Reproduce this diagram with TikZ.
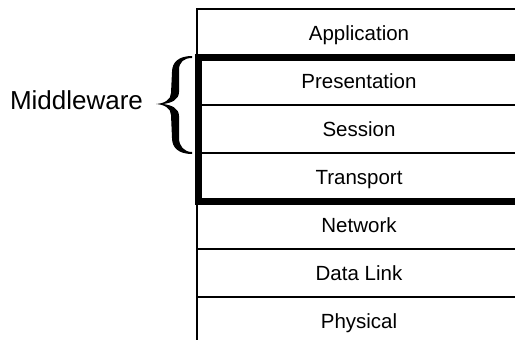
\documentclass[tikz,border=0pt]{standalone}
\usepackage{fontspec}
\setmainfont{Liberation Sans}
\begin{document}
\begin{tikzpicture}[x=1pt,y=-1pt]
\tikzset{layer/.style = {shape=rectangle,draw,line width=2pt,
		minimum width=324pt,minimum height=48pt,
		outer sep=0pt,inner sep=0pt,
		text height=14.7pt,text depth=0pt,
		font=\fontsize{20.5}{24}\selectfont}}
\tikzset{frame/.style = {draw,line width=7pt}}
\useasboundingbox (0,0) rectangle (515,340);
\clip (0,0) rectangle (515,340);
% layers
\node[layer] (app) at (359,33) {Application};
\node[layer] (pres) at (359,81) {Presentation};
\node[layer] (sess) at (359,129) {Session};
\node[layer] (trans) at (359,177) {Transport};
\node[layer] (net) at (359,225) {Network};
\node[layer] (dl) at (359,273) {Data Link};
\node[layer] (phy) at (359,321) {Physical};

% middleware box and label
\draw[frame] ([xshift=1pt]pres.north west) rectangle (trans.south east);
\node[font=\fontsize{26}{30}\selectfont,anchor=base] (mw) at (76.5,109) {Middleware};

% brace
\fill (192,56) .. controls (179,56) and (172,62) .. (172,72)
	-- (171,93) .. controls (171,100) and (164,103.5) .. (156,104)
	.. controls (164,104.5) and (171,108) .. (171,115)
	-- (172,138) .. controls (172,148) and (179,154) .. (192,154)
	-- (192,152) .. controls (184,152) and (179,146) .. (179,138)
	-- (179,116) .. controls (179,108) and (171,105) .. (163,104)
	.. controls (171,103) and (179,100) .. (179,92)
	-- (179,70) .. controls (179,62) and (184,58) .. (192,58) -- cycle;
\end{tikzpicture}
\end{document}
